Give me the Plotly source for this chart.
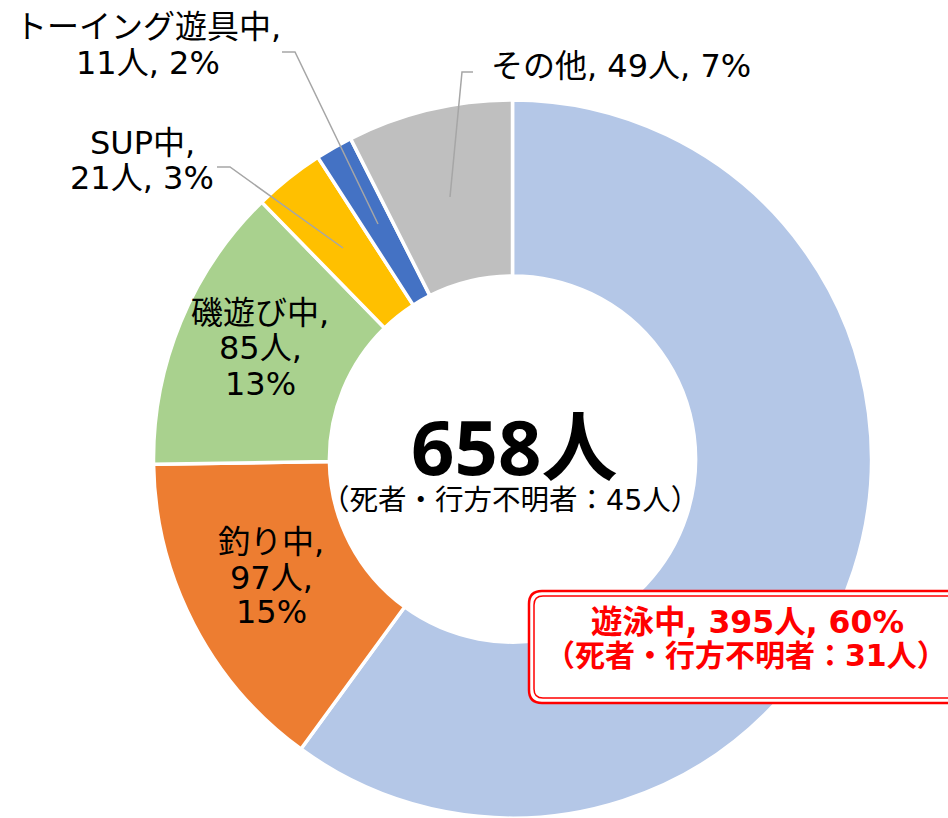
import plotly.graph_objects as go

# ---- data ----
categories = ["遊泳中", "釣り中", "磯遊び中", "SUP中", "トーイング遊具中", "その他"]
counts = [395, 97, 85, 21, 11, 49]
colors = ["#B4C7E7", "#ED7D31", "#A9D18E", "#FFC000", "#4472C4", "#BFBFBF"]
total_missing = 45
swim_missing = 31

W, H = 948, 818
total = sum(counts)
percents = [round(c * 100 / total) for c in counts]


def px(x):
    return x / W


def py(y):
    return 1 - y / H


LABEL_FONT = "DejaVu Sans, Noto Sans CJK JP"
BOLD_FONT = "Noto Sans, Noto Sans CJK JP"

fig = go.Figure(
    go.Pie(
        labels=categories,
        values=counts,
        sort=False,
        direction="clockwise",
        rotation=0,
        hole=0.51,
        marker=dict(colors=colors, line=dict(color="white", width=3.5)),
        textinfo="none",
        hoverinfo="skip",
        showlegend=False,
        domain=dict(x=[px(153), px(872)], y=[py(818), py(100)]),
    )
)

# label line layout: (category index, line break pattern, centre x, line centre ys)
label_layout = {
    1: ([", ", ", "], 271, [542, 578, 612]),
    2: ([", ", ", "], 260, [313, 348, 384]),
    3: ([", ", None], 142, [143, 178]),
    4: ([", ", None], 148, [27, 63]),
    5: ([None, None], 621, [66]),
}

annotations = []
for i, (breaks, cx, ys) in label_layout.items():
    parts = [categories[i], f"{counts[i]}人", f"{percents[i]}%"]
    lines = [parts[0]]
    for b, p in zip(breaks, parts[1:]):
        if b is None:
            lines[-1] = lines[-1] + ", " + p
        else:
            lines[-1] = lines[-1] + ","
            lines.append(p)
    for text, y in zip(lines, ys):
        annotations.append(dict(
            x=px(cx), y=py(y), xref="paper", yref="paper", text=text,
            showarrow=False, xanchor="center", yanchor="middle",
            font=dict(family=LABEL_FONT, size=32, color="#000000"),
        ))

# centre text
annotations.append(dict(
    x=px(514), y=py(445), xref="paper", yref="paper", text=f"<b>{total}人</b>",
    showarrow=False, xanchor="center", yanchor="middle",
    font=dict(family=BOLD_FONT, size=76, color="#000000"),
))
annotations.append(dict(
    x=px(510), y=py(500), xref="paper", yref="paper",
    text=f"（死者・行方不明者：{total_missing}人）",
    showarrow=False, xanchor="center", yanchor="middle",
    font=dict(family=LABEL_FONT, size=28.5, color="#000000"),
))

# highlighted swimming label
annotations.append(dict(
    x=px(747), y=py(622), xref="paper", yref="paper",
    text=f"<b>{categories[0]}, {counts[0]}人, {percents[0]}%</b>",
    showarrow=False, xanchor="center", yanchor="middle",
    font=dict(family=LABEL_FONT, size=31.5, color="#FF0000"),
))
annotations.append(dict(
    x=px(746), y=py(655), xref="paper", yref="paper",
    text=f"<b>（死者・行方不明者：{swim_missing}人）</b>",
    showarrow=False, xanchor="center", yanchor="middle",
    font=dict(family=LABEL_FONT, size=30, color="#FF0000"),
))


def poly(points):
    s = ""
    for k, (x, y) in enumerate(points):
        s += ("M" if k == 0 else "L") + f"{px(x)},{py(y)} "
    return s


def rrect(x0, y0, x1, y1, r):
    pts = [
        ("M", (x0 + r, y0)), ("L", (x1 - r, y0)), ("Q", (x1, y0), (x1, y0 + r)),
        ("L", (x1, y1 - r)), ("Q", (x1, y1), (x1 - r, y1)), ("L", (x0 + r, y1)),
        ("Q", (x0, y1), (x0, y1 - r)), ("L", (x0, y0 + r)), ("Q", (x0, y0), (x0 + r, y0)),
    ]
    s = ""
    for p in pts:
        cmd = p[0]
        coords = " ".join(f"{px(a)},{py(b)}" for a, b in p[1:])
        s += f"{cmd}{coords} "
    return s + "Z"


leader_lines = [
    [(282, 52), (295, 52), (378, 224)],
    [(217, 167), (230, 167), (343, 248)],
    [(473, 72), (462, 72), (450, 197)],
]

shapes = []
for pts in leader_lines:
    shapes.append(dict(type="path", xref="paper", yref="paper", path=poly(pts),
                       line=dict(color="#A6A6A6", width=1.5)))

shapes.append(dict(type="path", xref="paper", yref="paper",
                   path=rrect(529, 591, 965, 703, 13),
                   line=dict(color="#FF0000", width=2.5), fillcolor="white"))
shapes.append(dict(type="path", xref="paper", yref="paper",
                   path=rrect(534, 596, 960, 698, 9),
                   line=dict(color="#FF0000", width=1.5)))

fig.update_layout(
    width=W, height=H,
    margin=dict(l=0, r=0, t=0, b=0),
    paper_bgcolor="white", plot_bgcolor="white",
    annotations=annotations,
    shapes=shapes,
)

fig.write_html(
    "out.html",
    config={"displayModeBar": False},
    post_script="document.body.style.margin='0';document.body.style.overflow='hidden';",
)
